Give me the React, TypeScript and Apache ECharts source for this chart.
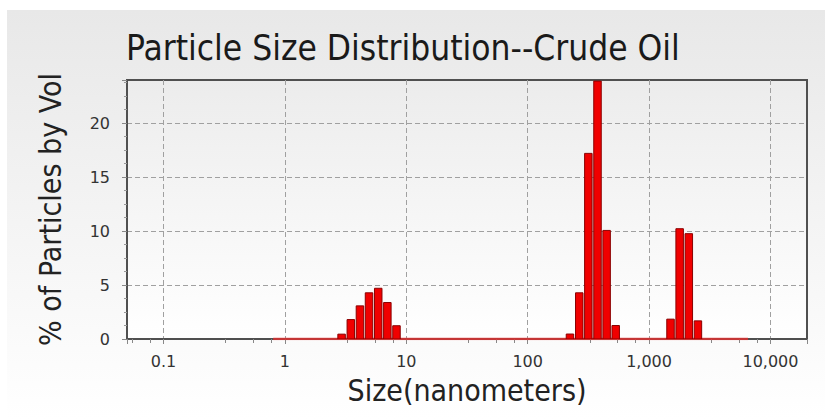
import React, { useEffect, useRef } from "react";
import * as echarts from "echarts";

// Channel centres (nm) and % by volume
const sizes = [2.93, 3.49, 4.15, 4.93, 5.87, 6.98, 8.3, 223, 266, 316, 376, 447, 531, 1502, 1786, 2125, 2526];
const volumes = [0.45, 1.8, 3.07, 4.28, 4.7, 3.38, 1.23, 0.46, 4.28, 17.2, 23.9, 10.06, 1.25, 1.84, 10.22, 9.76, 1.68];
// Measured channel range of the instrument (nm), drawn as the zero baseline
const channelRange = [0.8, 6540];
const xTickLabels = ["0.1", "1", "10", "100", "1,000", "10,000"];
const yTicks = [0, 5, 10, 15, 20];

const TITLE = "Particle Size Distribution--Crude Oil";
const X_NAME = "Size(nanometers)";
const Y_NAME = "% of Particles by Vol";
const FONT = "'DejaVu Sans Condensed', 'DejaVu Sans', sans-serif";
const LABEL_FONT = "'DejaVu Sans', Verdana, sans-serif";
const FRAME = "#505050";

export default function App() {
  const ref = useRef<HTMLDivElement>(null);
  useEffect(() => {
    if (!ref.current) return;
    const chart = echarts.init(ref.current, undefined, { renderer: "svg" });
    const half = Math.pow(2, 0.82 / 8);
    const barData = sizes.map((s, i) => [s, volumes[i]]);
    const split = { show: true, showMinLine: false, showMaxLine: false, lineStyle: { color: "#a0a0a0", type: [5, 3], width: 1 } };
    const frameAxis = {
      axisLine: { show: true, lineStyle: { color: FRAME, width: 2 } },
      axisTick: { show: false },
      axisLabel: { show: false },
      splitLine: { show: false },
      minorTick: { show: false },
    };
    chart.setOption({
      animation: false,
      graphic: [
        {
          type: "rect",
          shape: { x: 7, y: 10, width: 818, height: 409 },
          z: -10,
          silent: true,
          style: {
            fill: new echarts.graphic.LinearGradient(0, 0, 0, 1, [
              { offset: 0, color: "#e8e8e8" },
              { offset: 1, color: "#ffffff" },
            ]),
          },
        },
      ],
      title: {
        text: TITLE,
        left: 121,
        top: 25,
        textStyle: { fontFamily: FONT, fontSize: 35, fontWeight: "normal", color: "#1a1a1a" },
      },
      grid: {
        left: 127,
        top: 80,
        right: 18,
        bottom: 80,
        show: true,
        borderColor: FRAME,
        borderWidth: 2,
        backgroundColor: new echarts.graphic.LinearGradient(0, 0, 0, 1, [
          { offset: 0, color: "#ececec" },
          { offset: 1, color: "#ffffff" },
        ]),
      },
      xAxis: [
        {
          type: "log",
          logBase: 10,
          min: 0.05,
          max: 20000,
          name: X_NAME,
          nameLocation: "middle",
          nameGap: 36,
          nameTextStyle: { fontFamily: FONT, fontSize: 30, color: "#222" },
          axisLine: { show: true, lineStyle: { color: FRAME, width: 2 } },
          axisTick: { show: true, length: 5, lineStyle: { color: "#888" } },
          minorTick: { show: true, splitNumber: 4, length: 4, lineStyle: { color: "#888" } },
          axisLabel: {
            showMinLabel: false,
            showMaxLabel: false,
            margin: 14,
            fontFamily: LABEL_FONT,
            fontSize: 16,
            color: "#333",
            formatter: (v: number) => {
              const e = Math.round(Math.log10(v));
              if (Math.abs(Math.log10(v) - e) > 1e-6) return "";
              return xTickLabels[e + 1] ?? "";
            },
          },
          splitLine: split,
        },
        { type: "log", logBase: 10, min: 0.05, max: 20000, position: "top", ...frameAxis },
      ],
      yAxis: [
        {
          type: "value",
          min: yTicks[0],
          max: 24,
          interval: 5,
          name: Y_NAME,
          nameLocation: "middle",
          nameGap: 62,
          nameTextStyle: { fontFamily: FONT, fontSize: 30, color: "#222" },
          axisLine: { show: true, lineStyle: { color: FRAME, width: 2 } },
          axisTick: { show: true, length: 5, lineStyle: { color: "#888" } },
          minorTick: { show: true, splitNumber: 4, length: 3, lineStyle: { color: "#999" } },
          axisLabel: {
            showMaxLabel: false,
            margin: 17,
            fontFamily: LABEL_FONT,
            fontSize: 16,
            color: "#333",
            formatter: (v: number) => (yTicks.includes(v) ? String(v) : ""),
          },
          splitLine: split,
        },
        { type: "value", min: 0, max: 24, position: "right", ...frameAxis },
      ],
      series: [
        {
          type: "line",
          data: channelRange.map((s) => [s, 0]),
          symbol: "none",
          lineStyle: { color: "#e23030", width: 2.5, opacity: 0.8 },
          z: 3,
          silent: true,
        },
        {
          type: "custom",
          data: barData,
          z: 4,
          clip: true,
          encode: { x: 0, y: 1 },
          renderItem: (params: any, api: any) => {
            const s = api.value(0);
            const v = api.value(1);
            const p0 = api.coord([s / half, v]);
            const p1 = api.coord([s * half, 0]);
            return {
              type: "rect",
              shape: { x: p0[0], y: p0[1], width: p1[0] - p0[0], height: p1[1] - p0[1] },
              style: { fill: "#f00000", stroke: "#8a0000", lineWidth: 1 },
            };
          },
        },
      ],
    });
    return () => chart.dispose();
  }, []);
  return (
    <div
      ref={ref}
      style={{ position: "absolute", left: 0, top: 0, width: 825, height: 419, background: "#fff" }}
    />
  );
}
